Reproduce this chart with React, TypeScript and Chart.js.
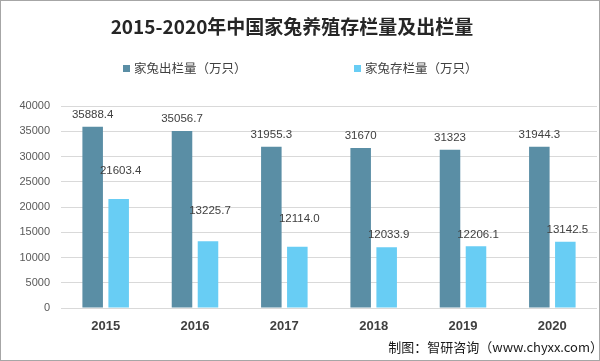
import React, { useEffect, useRef } from "react";
import { Chart, registerables } from "chart.js";

Chart.register(...registerables);

const titleText = "2015-2020年中国家兔养殖存栏量及出栏量";
const footerText = "制图：智研咨询（www.chyxx.com）";
const categories = ["2015", "2016", "2017", "2018", "2019", "2020"];
const seriesNames = ["家兔出栏量（万只）", "家兔存栏量（万只）"];
const outValues = [35888.4, 35056.7, 31955.3, 31670, 31323, 31944.3];
const stockValues = [21603.4, 13225.7, 12114.0, 12033.9, 12206.1, 13142.5];
const outLabels = ["35888.4", "35056.7", "31955.3", "31670", "31323", "31944.3"];
const stockLabels = ["21603.4", "13225.7", "12114.0", "12033.9", "12206.1", "13142.5"];

const darkColor = "#5a8ea5";
const lightColor = "#68cdf4";
// label lift above bar top (style)
const darkLabelLift = [12, 12, 12, 12, 12, 12];
const lightLabelLift = [28, 30, 28, 12, 12, 12];

const decorPlugin = {
  id: "decor",
  afterDraw(chart: any) {
    const ctx = chart.ctx;
    ctx.save();
    // border
    ctx.strokeStyle = "#a6a6a6";
    ctx.lineWidth = 1;
    ctx.strokeRect(0.5, 0.5, chart.width - 1, chart.height - 1);
    // title
    ctx.fillStyle = "#262626";
    ctx.font = "bold 19px 'Noto Sans CJK SC', sans-serif";
    ctx.textAlign = "center";
    ctx.textBaseline = "middle";
    ctx.fillText(titleText, 292, 27);
    // legend
    ctx.font = "12.5px 'Noto Sans CJK SC', sans-serif";
    ctx.textAlign = "left";
    const legendX = [123, 354];
    const colors = [darkColor, lightColor];
    seriesNames.forEach((name, i) => {
      ctx.fillStyle = colors[i];
      ctx.fillRect(legendX[i], 65, 7, 7);
      ctx.fillStyle = "#404040";
      ctx.fillText(name, legendX[i] + 11, 68);
    });
    // data labels
    ctx.font = "11.5px 'Liberation Sans', sans-serif";
    ctx.textAlign = "center";
    ctx.fillStyle = "#404040";
    const m0 = chart.getDatasetMeta(0);
    const m1 = chart.getDatasetMeta(1);
    m0.data.forEach((bar: any, i: number) => {
      ctx.fillText(outLabels[i], bar.x, bar.y - darkLabelLift[i]);
    });
    m1.data.forEach((bar: any, i: number) => {
      ctx.fillText(stockLabels[i], bar.x + 2, bar.y - lightLabelLift[i]);
    });
    // footer
    ctx.font = "13px 'Noto Sans CJK SC', sans-serif";
    ctx.textAlign = "right";
    ctx.fillStyle = "#1a1a1a";
    ctx.fillText(footerText, 603, 347);
    ctx.restore();
  },
};

export default function App() {
  const ref = useRef<HTMLCanvasElement>(null);
  useEffect(() => {
    if (!ref.current) return;
    const chart = new Chart(ref.current, {
      type: "bar",
      data: {
        labels: categories,
        datasets: [
          {
            label: seriesNames[0],
            data: outValues,
            backgroundColor: darkColor,
            categoryPercentage: 0.582,
            barPercentage: 0.79,
          },
          {
            label: seriesNames[1],
            data: stockValues,
            backgroundColor: lightColor,
            categoryPercentage: 0.582,
            barPercentage: 0.79,
          },
        ],
      },
      options: {
        responsive: false,
        animation: false,
        devicePixelRatio: 1,
        layout: { padding: { top: 106, left: 0, right: 3, bottom: 0 } },
        plugins: {
          legend: { display: false },
          title: { display: false },
          tooltip: { enabled: false },
        },
        scales: {
          x: {
            grid: { display: false, drawTicks: false },
            border: { display: false },
            ticks: {
              padding: 11,
              color: "#404040",
              font: { family: "'Liberation Sans', sans-serif", size: 13, weight: "bold" },
            },
            afterFit: (s: any) => {
              s.height = 53;
            },
          },
          y: {
            min: 0,
            max: 40000,
            ticks: {
              stepSize: 5000,
              padding: 11,
              color: "#595959",
              font: { family: "'Liberation Sans', sans-serif", size: 11 },
              callback: (v: any) => String(v),
            },
            grid: { color: "#d9d9d9", drawTicks: false },
            border: { display: false },
            afterFit: (s: any) => {
              s.width = 61;
            },
          },
        },
      },
      plugins: [decorPlugin],
    });
    return () => chart.destroy();
  }, []);
  return (
    <div style={{ position: "fixed", left: 0, top: 0, width: 600, height: 361, background: "#fff" }}>
      <canvas ref={ref} width={600} height={361} style={{ display: "block" }} />
    </div>
  );
}
